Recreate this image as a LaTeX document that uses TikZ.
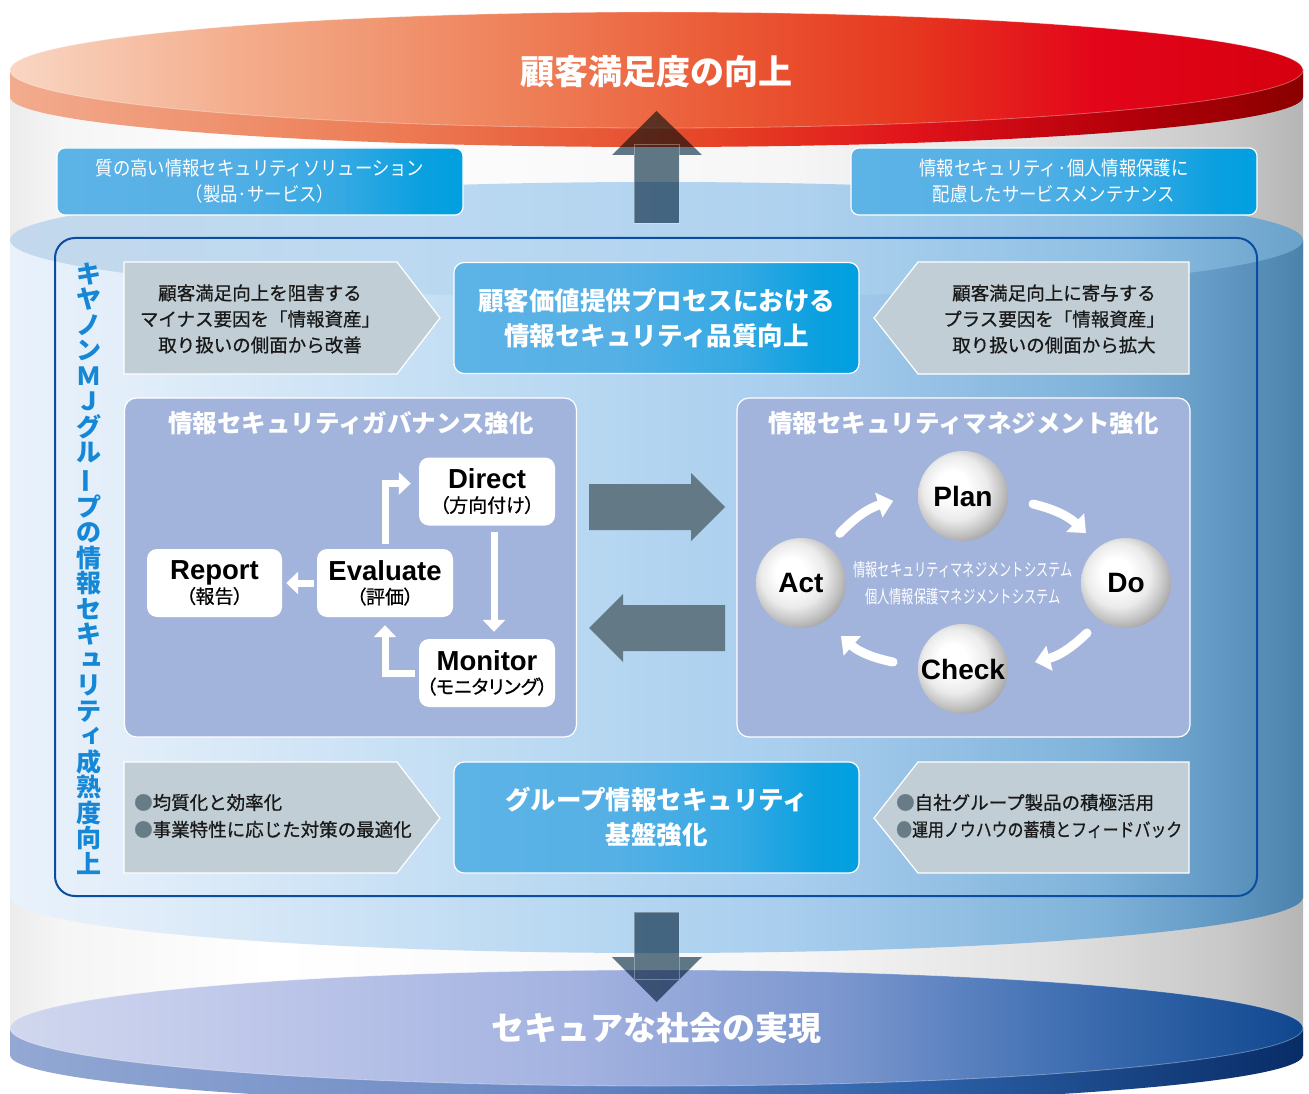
\documentclass[tikz,border=0pt]{standalone}
\usepackage{fontspec}
\usetikzlibrary{arrows.meta,calc}
\newfontfamily\jp{Noto Sans CJK JP}
\newfontfamily\jpv[RawFeature=+vert]{Noto Sans CJK JP}
\newfontfamily\jpm[FakeBold=0.7]{Noto Sans CJK JP}
\newfontfamily\jpp[RawFeature=+palt,FakeBold=0.7]{Noto Sans CJK JP}
\newfontfamily\lat{Liberation Sans}
\newcommand\tatebar{\rotatebox[origin=c]{90}{ー}}
\newcommand\smk[1]{{\jpv #1}}
\newcommand\twol[2]{{\lat\bfseries\fontsize{27.5}{23.5}\selectfont #1}\\{\jpp #2}}

\definecolor{framec}{HTML}{0B4D9F}
\definecolor{vtc}{HTML}{1487D6}
\definecolor{panelc}{HTML}{A3B4DC}
\definecolor{grayp}{HTML}{C2CED6}
\definecolor{arrc}{HTML}{637A86}
\definecolor{multc}{HTML}{627A88}
\definecolor{bulc}{HTML}{687C88}
% gray body
\definecolor{g1}{HTML}{ECECEC}\definecolor{g2}{HTML}{F5F5F5}\definecolor{g3}{HTML}{FFFFFF}
\definecolor{g4}{HTML}{F6F6F6}\definecolor{g5}{HTML}{E2E2E2}\definecolor{g6}{HTML}{C8C8C8}\definecolor{g7}{HTML}{B5B5B5}
% blue body
\definecolor{b1}{HTML}{E9F2FB}\definecolor{b2}{HTML}{E1EDF9}\definecolor{b3}{HTML}{BCDAF2}
\definecolor{b4}{HTML}{A9CEEE}\definecolor{b5}{HTML}{80B3DA}\definecolor{b6}{HTML}{6098C3}\definecolor{b7}{HTML}{4B82AB}
% blue face
\definecolor{f1}{HTML}{C3D8EC}\definecolor{f2}{HTML}{BCD9F1}\definecolor{f3}{HTML}{AFD2EF}
\definecolor{f4}{HTML}{8EBFE3}\definecolor{f5}{HTML}{6AA2CA}
% red face
\definecolor{r1}{HTML}{F9D6C3}\definecolor{r2}{HTML}{F3A886}\definecolor{r3}{HTML}{EE7F58}
\definecolor{r4}{HTML}{EA5834}\definecolor{r5}{HTML}{E6361F}\definecolor{r6}{HTML}{E3051A}\definecolor{r7}{HTML}{D5000F}
% red side
\definecolor{s1}{HTML}{F2AC8E}\definecolor{s2}{HTML}{EC7B54}\definecolor{s3}{HTML}{E64527}
\definecolor{s4}{HTML}{E0121A}\definecolor{s5}{HTML}{B4000A}\definecolor{s6}{HTML}{8A0000}
% bottom disk face
\definecolor{d1}{HTML}{D0D7EE}\definecolor{d2}{HTML}{B9C3E8}\definecolor{d3}{HTML}{A3B2E0}
\definecolor{d4}{HTML}{7C97CF}\definecolor{d5}{HTML}{4573B5}\definecolor{d6}{HTML}{0F478F}
% bottom disk side
\definecolor{e1}{HTML}{93A8D3}\definecolor{e2}{HTML}{6C8AC5}\definecolor{e3}{HTML}{2E62AA}\definecolor{e4}{HTML}{082C66}
% cyan boxes
\definecolor{c1}{HTML}{5DB3E6}\definecolor{c2}{HTML}{55B0E5}\definecolor{c3}{HTML}{35A9E3}\definecolor{c4}{HTML}{0AA0E0}\definecolor{c5}{HTML}{00A0E0}

\pgfdeclarehorizontalshading{grayb}{100bp}{color(0bp)=(g1); color(25bp)=(g1); color(27bp)=(g2); color(35bp)=(g3); color(55bp)=(g4); color(65bp)=(g5); color(72bp)=(g6); color(75bp)=(g7); color(100bp)=(g7)}
\pgfdeclarehorizontalshading{blueb}{100bp}{color(0bp)=(b1); color(25bp)=(b1); color(30bp)=(b2); color(45bp)=(b3); color(55bp)=(b4); color(67bp)=(b5); color(72bp)=(b6); color(75bp)=(b7); color(100bp)=(b7)}
\pgfdeclarehorizontalshading{bluef}{100bp}{color(0bp)=(f1); color(25bp)=(f1); color(40bp)=(f2); color(55bp)=(f3); color(68bp)=(f4); color(75bp)=(f5); color(100bp)=(f5)}
\pgfdeclarehorizontalshading{redf}{100bp}{color(0bp)=(r1); color(25bp)=(r1); color(35bp)=(r2); color(45bp)=(r3); color(53bp)=(r4); color(60bp)=(r5); color(67bp)=(r6); color(75bp)=(r7); color(100bp)=(r7)}
\pgfdeclarehorizontalshading{reds}{100bp}{color(0bp)=(s1); color(25bp)=(s1); color(40bp)=(s2); color(52bp)=(s3); color(60bp)=(s4); color(68bp)=(s5); color(75bp)=(s6); color(100bp)=(s6)}
\pgfdeclarehorizontalshading{bluedf}{100bp}{color(0bp)=(d1); color(25bp)=(d1); color(37bp)=(d2); color(47bp)=(d3); color(57bp)=(d4); color(65bp)=(d5); color(75bp)=(d6); color(100bp)=(d6)}
\pgfdeclarehorizontalshading{blueds}{100bp}{color(0bp)=(e1); color(25bp)=(e1); color(45bp)=(e2); color(60bp)=(e3); color(75bp)=(e4); color(100bp)=(e4)}
\pgfdeclarehorizontalshading{cboxsh}{100bp}{color(0bp)=(c1); color(25bp)=(c1); color(45bp)=(c2); color(60bp)=(c3); color(70bp)=(c4); color(75bp)=(c5); color(100bp)=(c5)}
\pgfdeclareradialshading{sphere}{\pgfpoint{-7bp}{7bp}}{color(0bp)=(white); color(8bp)=(white); color(18bp)=(black!8); color(25bp)=(black!24); color(33bp)=(black!45); color(50bp)=(black!45)}

\begin{document}
\begin{tikzpicture}[x=1pt,y=-1pt,
  topbox/.style={rectangle, rounded corners=8pt, shade, shading=cboxsh, draw=white, line width=1.2pt,
    minimum width=406pt, minimum height=67pt, text=white, align=center, inner sep=0pt,
    font=\jp\fontsize{19.5}{26}\selectfont},
  cbox/.style={rectangle, rounded corners=10pt, shade, shading=cboxsh, draw=white, line width=1.2pt,
    minimum width=405pt, minimum height=111pt, text=white, align=center, inner sep=0pt,
    font=\jp\bfseries\fontsize{25.5}{35}\selectfont},
  pent/.style={fill=grayp, draw=white, line width=1.2pt},
  ptext/.style={align=center, text=black!90, inner sep=0pt, font=\jpm\fontsize{18.5}{26}\selectfont},
  btext/.style={align=left, text=black!90, inner sep=0pt, font=\jpm\fontsize{18.5}{27}\selectfont, anchor=west},
  panel/.style={rectangle, rounded corners=12pt, fill=panelc, draw=white, line width=1.2pt,
    minimum width=452pt, minimum height=339pt},
  ptitle/.style={text=white, font=\jp\bfseries\fontsize{24.5}{28}\selectfont, inner sep=0pt},
  dbox/.style={rectangle, rounded corners=10pt, fill=white, minimum width=136pt, minimum height=68pt,
    align=center, inner sep=0pt, font=\jpp\fontsize{19}{23.5}\selectfont},
  wa/.style={white, line width=7pt, -{Triangle[width=22pt,length=12pt]}},
  ball/.style={circle, minimum size=90pt, inner sep=0pt, shade, shading=sphere,
    font=\lat\bfseries\fontsize{28}{28}\selectfont},
  pdca/.style={white, line width=9pt, line cap=round, -{Triangle[width=25pt,length=15pt]}},
  bigtitle/.style={text=white, inner sep=0pt, font=\jp\bfseries\fontsize{34}{40}\selectfont}
]
\useasboundingbox (0,0) rectangle (1309,1094);
\fill[white] (0,0) rectangle (1309,1094);

% cylinder body
\shade[shading=grayb] (10,70) rectangle (1303,1055);
% blue middle section
\shade[shading=blueb] (10,240) rectangle (1303,897);
\shade[shading=blueb] (656.5,897) ellipse [x radius=646.5, y radius=56];
\shade[shading=bluef] (656.5,240) ellipse [x radius=646.5, y radius=58];
% red top disk
\shade[shading=reds] (10,70) rectangle (1303,97);
\shade[shading=reds] (656.5,97) ellipse [x radius=646.5, y radius=50];
\shade[shading=redf] (656.5,70) ellipse [x radius=646.5, y radius=58];
\draw[white, opacity=0.35, line width=0.8pt] (656.5,70) ellipse [x radius=646.5, y radius=58];
% blue bottom disk
\shade[shading=blueds] (10,1028) rectangle (1303,1055);
\shade[shading=blueds] (656.5,1055) ellipse [x radius=646.5, y radius=50];
\shade[shading=bluedf] (656.5,1028) ellipse [x radius=646.5, y radius=58];
\draw[white, opacity=0.35, line width=0.8pt] (656.5,1028) ellipse [x radius=646.5, y radius=58];

% titles on disks
\node[bigtitle] (toptitle) at (656.5,72) {顧客満足度の向上};
\node[bigtitle, font=\jp\bfseries\fontsize{33}{40}\selectfont] (bottitle) at (656.5,1028) {セキュアな社会の実現};

% inner frame
\draw[framec, line width=2pt, rounded corners=20pt] (55,238) rectangle (1257,896);

% top boxes
\node[topbox] (tbl) at (260,181.5) {\scalebox{0.89}[1]{質の高い情報セキュリティソリューション}\\\scalebox{0.89}[1]{（製品·サービス）}};
\node[topbox] (tbr) at (1054,181.5) {\scalebox{0.89}[1]{情報セキュリティ·個人情報保護に}\\\scalebox{0.89}[1]{配慮したサービスメンテナンス}};

% vertical arrows (multiply)
\begin{scope}[blend mode=multiply]
\fill[multc] (634,223) -- (634,155) -- (612,155) -- (656.5,111) -- (702,155) -- (679,155) -- (679,223) -- cycle;
\fill[multc] (634,912) -- (679,912) -- (679,957) -- (702,957) -- (656.5,1002) -- (612,957) -- (634,957) -- cycle;
\end{scope}
\draw[white, opacity=0.3, line width=0.6pt] (634,144) rectangle (679,223);
\draw[white, opacity=0.3, line width=0.6pt] (634,912) rectangle (679,979);

% vertical label
\node[text=vtc, align=center, inner sep=0pt, font=\jp\bfseries\fontsize{25}{25.5}\selectfont] (vt) at (89,568.5)
 {キ\\ヤ\\ノ\\ン\\Ｍ\\Ｊ\\グ\\ル\\\tatebar\\プ\\の\\情\\報\\セ\\キ\\\smk{ュ}\\リ\\テ\\\smk{ィ}\\成\\熟\\度\\向\\上};

% upper row
\path[pent] (124,262) -- (397,262) -- (440,318) -- (397,374) -- (124,374) -- cycle;
\node[ptext] (pul) at (260,319) {顧客満足向上を阻害する\\マイナス要因を「情報資産」\\取り扱いの側面から改善};
\path[pent] (918,262) -- (1189,262) -- (1189,374) -- (918,374) -- (874,318) -- cycle;
\node[ptext] (pur) at (1054,319) {顧客満足向上に寄与する\\プラス要因を「情報資産」\\取り扱いの側面から拡大};
\node[cbox] (ctop) at (656.5,318) {顧客価値提供プロセスにおける\\情報セキュリティ品質向上};

% lower row
\path[pent] (124,762) -- (397,762) -- (440,818) -- (397,873) -- (124,873) -- cycle;
\node[btext] (pll) at (134,816) {\textcolor{bulc}{●}均質化と効率化\\\textcolor{bulc}{●}事業特性に応じた対策の最適化};
\path[pent] (918,762) -- (1189,762) -- (1189,873) -- (918,873) -- (874,818) -- cycle;
\node[btext] (plr) at (896,816) {\textcolor{bulc}{●}自社グループ製品の積極活用\\\scalebox{0.86}[1]{\textcolor{bulc}{●}運用ノウハウの蓄積とフィードバック}};
\node[cbox] (cbot) at (656.5,817.5) {グループ情報セキュリティ\\基盤強化};

% panels
\node[panel] (gov) at (350.5,567.5) {};
\node[panel, minimum width=453pt] (mgmt) at (963.5,567.5) {};
\node[ptitle] (govt) at (351,423) {情報セキュリティガバナンス強化};
\node[ptitle] (mgmtt) at (963.5,423) {情報セキュリティマネジメント強化};

% middle block arrows
\fill[arrc] (589,484) -- (691,484) -- (691,473) -- (725,507) -- (691,541) -- (691,530) -- (589,530) -- cycle;
\fill[arrc] (725,605) -- (623,605) -- (623,594) -- (589,628) -- (623,662) -- (623,651) -- (725,651) -- cycle;

% governance cycle
\node[dbox] (direct) at (487,491.5) {\twol{Direct}{（方向付け）}};
\node[dbox] (evaluate) at (385,583) {\twol{Evaluate}{（評価）}};
\node[dbox, minimum width=135pt] (report) at (214.5,583) {\twol{Report}{（報告）}};
\node[dbox] (monitor) at (487,673) {\twol{Monitor}{（モニタリング）}};
\draw[wa] ([yshift=5pt]evaluate.north) |- ([xshift=-8pt,yshift=8pt]direct.west);
\draw[wa] ([xshift=7pt,yshift=-6pt]direct.south) -- ([xshift=7pt,yshift=7pt]monitor.north);
\draw[wa] ([xshift=-4pt]monitor.west) -| ([yshift=-8pt]evaluate.south);
\draw[wa] ([xshift=-3pt]evaluate.west) -- ([xshift=4pt]report.east);

% PDCA
\node[ball] (plan) at (963,496) {Plan};
\node[ball] (do) at (1126,583) {Do};
\node[ball] (check) at (963,669) {Check};
\node[ball] (act) at (801,583) {Act};
\node[text=white, align=center, inner sep=0pt, font=\jp\fontsize{18}{27}\selectfont] (pdcat) at (963,583)
  {\scalebox{0.68}[1]{情報セキュリティマネジメントシステム}\\\scalebox{0.68}[1]{個人情報保護マネジメントシステム}};
\draw[pdca] ($(act)+(-52:63)$) to[bend left=15] ($(plan)+(176:70)$);
\draw[pdca] ($(plan)+(6.5:70.5)$) to[bend left=15] ($(do)+(-128.7:64)$);
\draw[pdca] ($(do)+(128:63.4)$) to[bend left=15] ($(check)+(-5.6:72.3)$);
\draw[pdca] ($(check)+(185.7:70.3)$) to[bend left=15] ($(act)+(53:66.4)$);
\end{tikzpicture}
\end{document}
